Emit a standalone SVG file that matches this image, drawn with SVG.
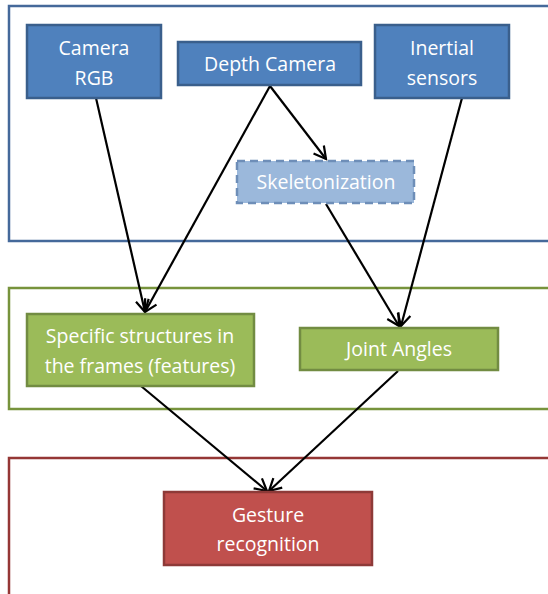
<svg xmlns="http://www.w3.org/2000/svg" width="548" height="594" viewBox="0 0 548 594">
<style>
.t{font-family:"Open Sans","Noto Sans",sans-serif;font-size:19.5px;fill:#fff;text-anchor:middle}
.blue{fill:#4F81BD;stroke:#3A5F8C;stroke-width:2.5}
.green{fill:#9BBB59;stroke:#728C42;stroke-width:2.5}
.red{fill:#C0504D;stroke:#8E3A38;stroke-width:2.5}
.skel{fill:#9BB8DB;stroke:#6E8EB8;stroke-width:2.5;stroke-dasharray:8 5}
.c{stroke:#000;stroke-width:2.2;fill:none;marker-end:url(#a)}
</style>
<defs>
<marker id="a" markerWidth="16" markerHeight="16" refX="13" refY="8" orient="auto" markerUnits="userSpaceOnUse">
<polyline points="1,1.5 13,8 1,14.5" fill="none" stroke="#000" stroke-width="2.2"/>
</marker>
</defs>
<rect width="548" height="594" fill="#fff"/>
<g id="containers">
<rect x="9" y="6" width="560" height="235" fill="none" stroke="#45699A" stroke-width="2.5"/>
<rect x="9" y="288" width="560" height="121" fill="none" stroke="#77933C" stroke-width="2.5"/>
<rect x="9" y="458" width="560" height="160" fill="none" stroke="#953735" stroke-width="2.5"/>
</g>
<g id="connectors">
<line class="c" x1="96" y1="98" x2="145" y2="312"/>
<line class="c" x1="270" y1="86" x2="145" y2="312"/>
<line class="c" x1="270" y1="86" x2="326" y2="159"/>
<line class="c" x1="326" y1="204" x2="399" y2="326"/>
<line class="c" x1="462" y1="98" x2="401" y2="326"/>
<line class="c" x1="141" y1="386" x2="267" y2="491"/>
<line class="c" x1="398" y1="371" x2="269" y2="491"/>
</g>
<g id="camera-rgb">
<rect class="blue" x="27" y="25" width="134" height="73"/>
<text class="t" x="94" y="55">Camera</text>
<text class="t" x="94" y="85">RGB</text>
</g>
<g id="depth-camera">
<rect class="blue" x="178" y="42" width="183" height="43"/>
<text class="t" x="270" y="71">Depth Camera</text>
</g>
<g id="inertial-sensors">
<rect class="blue" x="375" y="25" width="134" height="73"/>
<text class="t" x="442" y="55">Inertial</text>
<text class="t" x="442" y="85">sensors</text>
</g>
<g id="skeletonization">
<rect class="skel" x="237" y="161" width="177" height="42"/>
<text class="t" x="326" y="189">Skeletonization</text>
</g>
<g id="specific-structures">
<rect class="green" x="27" y="314" width="227" height="72"/>
<text class="t" x="140" y="343">Specific structures in</text>
<text class="t" x="140" y="373">the frames (features)</text>
</g>
<g id="joint-angles">
<rect class="green" x="300" y="328" width="198" height="42"/>
<text class="t" x="399" y="356">Joint Angles</text>
</g>
<g id="gesture-recognition">
<rect class="red" x="164" y="492" width="208" height="73"/>
<text class="t" x="268" y="522">Gesture</text>
<text class="t" x="268" y="551">recognition</text>
</g>
</svg>
